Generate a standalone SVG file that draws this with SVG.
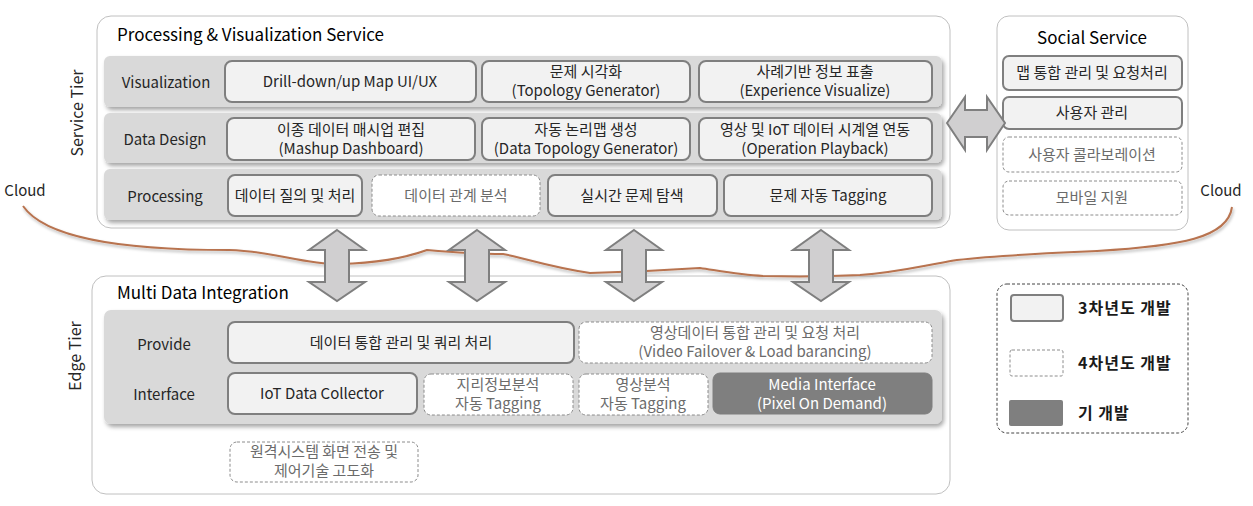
<svg xmlns="http://www.w3.org/2000/svg" width="1253" height="506" viewBox="0 0 1253 506">
<defs>
<filter id="sh" x="-5%" y="-20%" width="110%" height="150%">
<feDropShadow dx="2" dy="3" stdDeviation="2" flood-color="#000" flood-opacity="0.35"/>
</filter>
<filter id="csh" x="-5%" y="-20%" width="110%" height="150%">
<feDropShadow dx="1" dy="2" stdDeviation="1.5" flood-color="#000" flood-opacity="0.3"/>
</filter>
</defs>
<style>
text{font-family:"Noto Sans CJK KR","Noto Sans",sans-serif;font-size:15px;fill:#262626;text-anchor:middle}
.title{font-size:17px;fill:#000;text-anchor:start}
.cont{fill:#fff;stroke:#c0c0c0;stroke-width:1}
.band{fill:#d9d9d9;filter:url(#sh)}
.solid{fill:#f2f2f2;stroke:#7f7f7f;stroke-width:2}
.dash{fill:#fff;stroke:#8c8c8c;stroke-width:1;stroke-dasharray:3 2}
.dark{fill:#7f7f7f;stroke:#7f7f7f;stroke-width:1}
.dt{fill:#6b6b6b}
.wt{fill:#fff}
.lbl{fill:#262626}
.leg{font-weight:bold;text-anchor:start;fill:#1a1a1a;font-size:16px;letter-spacing:1px}
.arr{fill:#d0cfd0;stroke:#7f7f7f;stroke-width:2;stroke-linejoin:miter}
.cloud{fill:none;stroke:#b8734f;stroke-width:2;filter:url(#csh)}
.side{font-size:16px;fill:#262626}
.cl{font-size:15px;fill:#262626}
</style>

<!-- containers -->
<g id="pvs">
<rect class="cont" x="97" y="16" width="853" height="212" rx="14"/>
<text class="title" x="117" y="41">Processing &amp; Visualization Service</text>
<text class="side" transform="translate(83,113) rotate(-90)">Service  Tier</text>
<rect class="band" x="104" y="56" width="838" height="51" rx="6"/>
<rect class="band" x="104" y="113" width="838" height="50" rx="6"/>
<rect class="band" x="104" y="169" width="838" height="51" rx="6"/>
<text class="lbl" x="166" y="88">Visualization</text>
<text class="lbl" x="165" y="145">Data Design</text>
<text class="lbl" x="165" y="202">Processing</text>
</g>

<g id="n-drill"><rect class="solid" x="225" y="61" width="251" height="41" rx="7"/><text x="350" y="87">Drill-down/up Map UI/UX</text></g>
<g id="n-topo"><rect class="solid" x="482" y="61" width="208" height="41" rx="7"/><text x="586" y="77">문제 시각화</text><text x="586" y="96">(Topology Generator)</text></g>
<g id="n-exp"><rect class="solid" x="699" y="61" width="233" height="41" rx="7"/><text x="815" y="77">사례기반 정보 표출</text><text x="815" y="96">(Experience Visualize)</text></g>

<g id="n-mashup"><rect class="solid" x="227" y="118" width="248" height="42" rx="7"/><text x="351" y="135">이종 데이터 매시업 편집</text><text x="351" y="154">(Mashup Dashboard)</text></g>
<g id="n-dtopo"><rect class="solid" x="482" y="118" width="208" height="42" rx="7"/><text x="586" y="135">자동 논리맵 생성</text><text x="586" y="154">(Data Topology Generator)</text></g>
<g id="n-play"><rect class="solid" x="699" y="118" width="233" height="42" rx="7"/><text x="815" y="135">영상 및 IoT 데이터 시계열 연동</text><text x="815" y="154">(Operation Playback)</text></g>

<g id="n-query"><rect class="solid" x="228" y="175" width="134" height="41" rx="7"/><text x="295" y="201">데이터 질의 및 처리</text></g>
<g id="n-rel"><rect class="dash" x="372" y="175" width="168" height="41" rx="7"/><text class="dt" x="456" y="201">데이터 관계 분석</text></g>
<g id="n-rt"><rect class="solid" x="548" y="175" width="169" height="41" rx="7"/><text x="632" y="201">실시간 문제 탐색</text></g>
<g id="n-tag"><rect class="solid" x="724" y="175" width="208" height="41" rx="7"/><text x="828" y="201">문제 자동 Tagging</text></g>

<g id="social">
<rect class="cont" x="997" y="16" width="191" height="214" rx="12"/>
<text class="title" x="1092" y="44" style="text-anchor:middle">Social Service</text>
</g>
<g id="s-map"><rect class="solid" x="1003" y="56" width="179" height="34" rx="6"/><text x="1092" y="78">맵 통합 관리 및 요청처리</text></g>
<g id="s-user"><rect class="solid" x="1003" y="97" width="179" height="32" rx="6"/><text x="1092" y="118">사용자 관리</text></g>
<g id="s-collab"><rect class="dash" x="1003" y="137" width="179" height="35" rx="6"/><text class="dt" x="1092" y="160">사용자 콜라보레이션</text></g>
<g id="s-mobile"><rect class="dash" x="1003" y="181" width="179" height="34" rx="6"/><text class="dt" x="1092" y="203">모바일 지원</text></g>

<g id="mdi">
<rect class="cont" x="92" y="276" width="858" height="218" rx="14"/>
<text class="title" x="117" y="299">Multi Data Integration</text>
<text class="side" transform="translate(81,356) rotate(-90)">Edge Tier</text>
<rect class="band" x="104" y="310" width="838" height="114" rx="7"/>
<text class="lbl" x="164" y="350">Provide</text>
<text class="lbl" x="164" y="400">Interface</text>
</g>
<g id="e-data"><rect class="solid" x="228" y="322" width="346" height="41" rx="7"/><text x="401" y="348">데이터 통합 관리 및 쿼리 처리</text></g>
<g id="e-video"><rect class="dash" x="579" y="322" width="353" height="41" rx="7"/><text class="dt" x="755" y="338">영상데이터 통합 관리 및 요청 처리</text><text class="dt" x="755" y="357">(Video Failover &amp; Load barancing)</text></g>
<g id="e-iot"><rect class="solid" x="228" y="373" width="189" height="41" rx="7"/><text x="322" y="399">IoT Data Collector</text></g>
<g id="e-geo"><rect class="dash" x="424" y="374" width="149" height="41" rx="7"/><text class="dt" x="498" y="390">지리정보분석</text><text class="dt" x="498" y="409">자동 Tagging</text></g>
<g id="e-vid"><rect class="dash" x="579" y="374" width="129" height="41" rx="7"/><text class="dt" x="643" y="390">영상분석</text><text class="dt" x="643" y="409">자동 Tagging</text></g>
<g id="e-media"><rect class="dark" x="713" y="373" width="219" height="41" rx="7"/><text class="wt" x="822" y="390">Media Interface</text><text class="wt" x="822" y="409">(Pixel On Demand)</text></g>
<g id="e-remote"><rect class="dash" x="230" y="442" width="188" height="40" rx="7"/><text class="dt" x="324" y="457">원격시스템 화면 전송 및</text><text class="dt" x="324" y="476">제어기술 고도화</text></g>

<g id="legend">
<rect x="997" y="284" width="191" height="149" rx="10" fill="#fff" stroke="#444" stroke-width="1" stroke-dasharray="3 2"/>
<rect class="solid" x="1011" y="295" width="52" height="26" rx="3"/>
<text class="leg" x="1078" y="314">3차년도 개발</text>
<rect class="dash" x="1010" y="350" width="53" height="26" rx="2"/>
<text class="leg" x="1078" y="369">4차년도 개발</text>
<rect x="1009" y="400" width="54" height="26" rx="2" fill="#7f7f7f"/>
<text class="leg" x="1078" y="419">기 개발</text>
</g>

<g id="connectors">
<text class="cl" x="25" y="196">Cloud</text>
<text class="cl" x="1221" y="196">Cloud</text>
<path class="cloud" d="M23,206 C45,238 120,250 229,250 C275,251 300,264 340,264 C380,263 405,258 427,250 C450,252 480,254 503,254 C525,258 545,266 590,273 C630,272 670,270 700,268 C720,271 740,275 763,276 C810,277 840,276 860,275 C900,272 920,266 957,260 C1000,255 1050,253 1097,251 C1180,246 1228,238 1232,207"/>
<path class="arr" d="M337,230 L365,250 L349,250 L349,282 L365,282 L337,301 L309,282 L325,282 L325,250 L309,250 Z"/>
<path class="arr" d="M477,230 L505,250 L489,250 L489,282 L505,282 L477,301 L449,282 L465,282 L465,250 L449,250 Z"/>
<path class="arr" d="M634,230 L662,250 L646,250 L646,282 L662,282 L634,301 L606,282 L622,282 L622,250 L606,250 Z"/>
<path class="arr" d="M821,230 L849,250 L833,250 L833,282 L849,282 L821,301 L793,282 L809,282 L809,250 L793,250 Z"/>
<path class="arr" d="M947,123 L965,97 L965,110 L987,110 L987,97 L1005,123 L987,150 L987,137 L965,137 L965,150 Z"/>
</g>
</svg>
